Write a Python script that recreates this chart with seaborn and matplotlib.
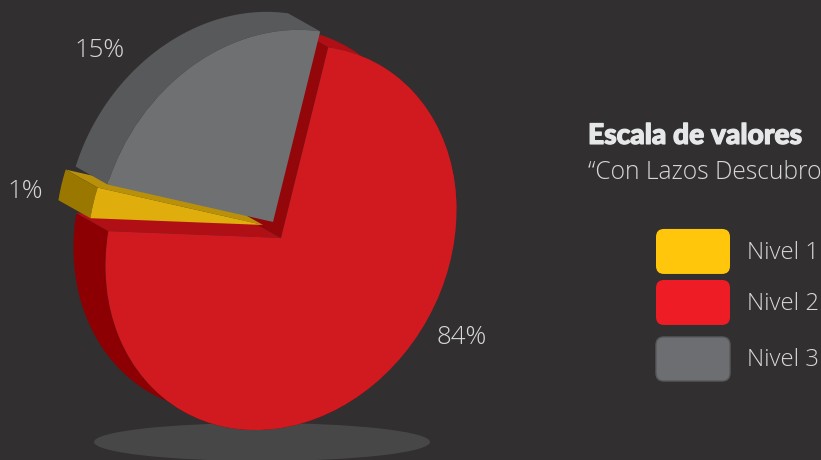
# Pastel 3D "Escala de valores"
import numpy as np
import matplotlib
matplotlib.use("Agg")
import matplotlib.pyplot as plt
import matplotlib.patheffects as pe
from matplotlib.patches import Ellipse, FancyBboxPatch
from matplotlib.transforms import Affine2D
import seaborn as sns

# --- DATOS ---
niveles = ["Nivel 1", "Nivel 2", "Nivel 3"]
porcentajes = ["1%", "84%", "15%"]
# the slices in the picture are not drawn to scale with their labels,
# so the sweep (degrees) is read off the picture separately
barrido = [9.2, 264.8, 86.0]
angulo_inicio = 160.4

# --- ESTILO ---
fondo = "#312f30"
caras = ["#e0ae0c", "#d11a1f", "#6e7072"]
muros_ext = ["#9a7800", "#8c0004", "#58595b"]
muros_rad = ["#b8900a", "#b00f16", "#58595b"]
leyenda = ["#ffc60b", "#ee1c25", "#6d6e71"]
texto = "#d6d7d9"

sns.set_theme(style="dark", rc={"figure.facecolor": fondo, "axes.facecolor": fondo})
plt.rcParams["font.family"] = ["Open Sans", "DejaVu Sans"]

fig = plt.figure(figsize=(8.21, 4.601), dpi=100)
ax = fig.add_axes([0, 0, 1, 1])

# circle -> sheared ellipse, in pixels
centros = [(263, 225), (281, 238), (273, 222)]
fondo_3d = (-32, -18)
orden_z = [5, 3, 7]


def punto(ang, centro, desp=(0, 0)):
    t = np.radians(ang)
    x = centro[0] + desp[0] + 175.5 * np.cos(t)
    y = centro[1] + desp[1] - (28 * np.cos(t) + 190 * np.sin(t))
    return np.column_stack([x, y])


def muro_arco(a0, a1, centro, color, z):
    ang = np.linspace(a0, a1, 120)
    frente = punto(ang, centro)
    atras = punto(ang, centro, fondo_3d)
    pol = np.vstack([frente, atras[::-1]])
    ax.fill(pol[:, 0], pol[:, 1], color=color, lw=0, zorder=z)


def muro_radial(ang, centro, color, z):
    esq = punto(np.array([ang]), centro)[0]
    c = np.array(centro, dtype=float)
    d = np.array(fondo_3d, dtype=float)
    pol = np.array([c, esq, esq + d, c + d])
    ax.fill(pol[:, 0], pol[:, 1], color=color, lw=0, zorder=z)


wedges, _ = ax.pie(barrido, colors=sns.color_palette(caras), startangle=angulo_inicio,
                   counterclock=True, wedgeprops={"linewidth": 0})

limites = np.cumsum([angulo_inicio] + barrido)
for i, w in enumerate(wedges):
    cx, cy = centros[i]
    m = Affine2D(np.array([[175.5, 0, cx], [-28, -190, cy], [0, 0, 1]]))
    w.set_transform(m + ax.transData)
    w.set_zorder(orden_z[i] + 0.5)

# paredes laterales
a_am, a_ro, a_gr, a_fin = limites
muro_arco(a_am, a_ro, centros[0], muros_ext[0], 4.1)
muro_radial(a_am, centros[0], muros_rad[0], 4)
muro_arco(a_ro, 300, centros[1], muros_ext[1], 2)
muro_arco(360, a_gr, centros[1], muros_rad[1], 2)
muro_radial(a_ro, centros[1], muros_rad[1], 2.2)
muro_radial(a_gr, centros[1], "#93060a", 2.3)
muro_arco(a_gr, a_fin, centros[2], muros_ext[2], 6)

# sombra
ax.add_patch(Ellipse((262, 442), 336, 38, color="#474747", lw=0, zorder=1))

# etiquetas
pos_etiquetas = [(25, 191), (462, 337), (100, 50)]
for lab, (x, y) in zip(porcentajes, pos_etiquetas):
    ax.text(x, y, lab, color=texto, fontsize=18.5, fontweight="light",
            ha="center", va="center", zorder=9)

# titulo
tit = ax.text(588, 136, "Escala de valores", color="#e6e7e8", fontsize=20.3,
              fontweight="black", ha="left", va="center", family=["Lato", "DejaVu Sans"])
tit.set_path_effects([pe.withStroke(linewidth=0.9, foreground="#e6e7e8")])
ax.text(588, 172, "\u201cCon Lazos Descubro", color=texto, fontsize=17.7,
        fontweight="light", ha="left", va="center")

# leyenda
y_cajas = [(229, 274), (280, 325), (337, 381)]
for lab, col, (y0, y1) in zip(niveles, leyenda, y_cajas):
    gris = col == leyenda[2]
    ax.add_patch(FancyBboxPatch((664, y0 + 8), 58, y1 - y0 - 16,
                                boxstyle="round,pad=8,rounding_size=8",
                                fc=col, ec="#58595b" if gris else "none",
                                lw=1 if gris else 0, zorder=3))
    ax.text(747, (y0 + y1) / 2 + 1, lab, color=texto, fontsize=17.2, fontweight="light",
            ha="left", va="center")

ax.set_aspect("auto")
ax.set_xlim(0, 821)
ax.set_ylim(460, 0)
ax.set_axis_off()

fig.savefig("out.png", dpi=100, facecolor=fondo)
